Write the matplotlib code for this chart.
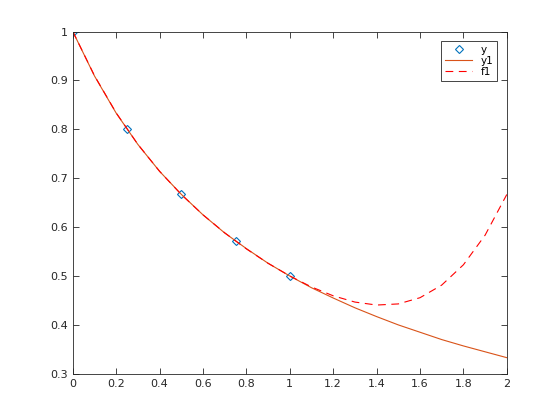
import matplotlib
matplotlib.use('Agg')
import matplotlib.pyplot as plt

# sample points (y)
x_pts = [0, 0.25, 0.5, 0.75, 1.0]
y_pts = [1.0, 0.8, 0.6667, 0.5714, 0.5]

# curves, step 0.1 from 0 to 2
x_curve = [0.0, 0.1, 0.2, 0.3, 0.4, 0.5, 0.6, 0.7, 0.8, 0.9, 1.0,
           1.1, 1.2, 1.3, 1.4, 1.5, 1.6, 1.7, 1.8, 1.9, 2.0]
y1_vals = [1.0, 0.909, 0.833, 0.769, 0.714, 0.667, 0.625, 0.588, 0.556, 0.526, 0.5,
           0.476, 0.455, 0.435, 0.417, 0.4, 0.385, 0.370, 0.357, 0.345, 0.333]
f1_vals = [1.0, 0.9096, 0.8335, 0.7691, 0.7141, 0.6667, 0.6251, 0.5883, 0.5554, 0.5260, 0.5,
           0.4776, 0.4595, 0.4467, 0.4406, 0.4429, 0.4556, 0.4814, 0.5229, 0.5835, 0.6667]

ax_col = '#262626'
plt.rcParams['font.family'] = ['DejaVu Sans']

fig = plt.figure(figsize=(5.6, 4.2), dpi=100)
ax = fig.add_axes([0.13, 0.11, 0.775, 0.815])

ax.plot(x_pts, y_pts, 'D', markerfacecolor='none', markeredgecolor='#0072BD',
        markersize=4, markeredgewidth=0.8, label='y')
ax.plot(x_curve, y1_vals, '-', color='#D95319', linewidth=0.8, label='y1')
ax.plot(x_curve, f1_vals, '--', color='#FF0000', linewidth=0.8, dashes=(7, 5), label='f1')

ax.set_xlim(0, 2)
ax.set_ylim(0.3, 1.0)
ax.set_xticks([0, 0.2, 0.4, 0.6, 0.8, 1, 1.2, 1.4, 1.6, 1.8, 2])
ax.set_xticklabels(['0', '0.2', '0.4', '0.6', '0.8', '1', '1.2', '1.4', '1.6', '1.8', '2'])
ax.set_yticks([0.3, 0.4, 0.5, 0.6, 0.7, 0.8, 0.9, 1.0])
ax.set_yticklabels(['0.3', '0.4', '0.5', '0.6', '0.7', '0.8', '0.9', '1'])

ax.tick_params(direction='in', length=4, width=0.6, colors=ax_col, labelsize=8,
               top=True, right=True)
for s in ax.spines.values():
    s.set_color(ax_col)
    s.set_linewidth(0.6)

leg = ax.legend(loc='upper right', fontsize=7.5, fancybox=False, framealpha=1,
                edgecolor=ax_col, borderaxespad=0.9, handlelength=2.6,
                labelspacing=0.1, borderpad=0.4)
leg.get_frame().set_linewidth(0.6)

fig.savefig('out.png', dpi=100)
